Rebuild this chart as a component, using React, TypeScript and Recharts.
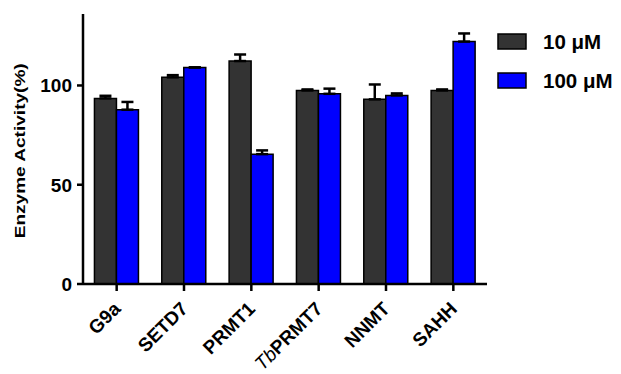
import React from 'react';
import { BarChart, Bar, XAxis, YAxis, ErrorBar, Legend } from 'recharts';

const categories = ['G9a', 'SETD7', 'PRMT1', 'TbPRMT7', 'NNMT', 'SAHH'];
const values10 = [93.5, 104.1, 112.3, 97.5, 93.0, 97.5];
const errors10 = [1.3, 1.1, 3.3, 0.5, 7.5, 0.5];
const values100 = [87.8, 109.1, 65.4, 95.8, 95.0, 122.1];
const errors100 = [3.9, 0.0, 1.9, 2.6, 1.0, 4.1];
const yTicks = [0, 50, 100];
const seriesNames = ['10 \u03bcM', '100 \u03bcM'];
const seriesColors = ['#333333', '#0000ff'];

const data = categories.map((c, i) => ({
  name: c,
  v10: values10[i],
  e10: [0, errors10[i]],
  v100: values100[i],
  e100: [0, errors100[i]],
}));

const FONT = '"Liberation Sans", Arial, sans-serif';

const XTick = (props: any) => {
  const { x, payload } = props;
  const label: string = payload.value;
  const ax = Number(x) + 5;
  const ay = 310;
  return (
    <text
      x={ax}
      y={ay}
      textAnchor="end"
      transform={`rotate(-45, ${ax}, ${ay})`}
      fontFamily={FONT}
      fontWeight={700}
      fontSize={19}
      fill="#000"
    >
      {label === 'TbPRMT7' ? (
        <>
          <tspan fontStyle="italic" fontWeight={400}>Tb</tspan>
          <tspan>PRMT7</tspan>
        </>
      ) : (
        label
      )}
    </text>
  );
};

const YLabel = () => (
  <text
    x={25}
    y={150.8}
    transform="rotate(-90, 25, 150.8)"
    textAnchor="middle"
    fontFamily={FONT}
    fontWeight={700}
    fontSize={15}
    textLength={175}
    lengthAdjust="spacingAndGlyphs"
    fill="#000"
  >
    Enzyme Activity(%)
  </text>
);

const YTick = (props: any) => {
  const { y, payload } = props;
  return (
    <text
      x={72}
      y={Number(y) + 7}
      textAnchor="end"
      fontFamily={FONT}
      fontWeight={700}
      fontSize={19}
      fill="#000"
    >
      {payload.value}
    </text>
  );
};

const LegendContent = () => (
  <svg width={140} height={70}>
    {seriesNames.map((n, i) => (
      <g key={n}>
        <rect x={3} y={6 + i * 39} width={28} height={15} fill={seriesColors[i]} stroke="#000" strokeWidth={1.5} />
        <text
          x={48}
          y={21 + i * 39}
          fontFamily={FONT}
          fontWeight={700}
          fontSize={20.5}
          fill="#000"
        >
          {n}
        </text>
      </g>
    ))}
  </svg>
);

export default function App() {
  return (
    <div style={{ position: 'absolute', left: 0, top: 0, width: 621, height: 374, background: '#fff' }}>
      <BarChart
        width={621}
        height={374}
        data={data}
        margin={{ top: 14, right: 134, bottom: 0, left: 0 }}
        barCategoryGap="17%"
        barGap={0}
      >
        <XAxis
          dataKey="name"
          height={90}
          tick={XTick}
          interval={0}
          tickSize={7}
          axisLine={{ stroke: '#000', strokeWidth: 2.5 }}
          tickLine={{ stroke: '#000', strokeWidth: 2.5 }}
        />
        <YAxis
          width={83}
          domain={[0, 136]}
          ticks={yTicks}
          tickSize={6}
          axisLine={{ stroke: '#000', strokeWidth: 2.5 }}
          tickLine={{ stroke: '#000', strokeWidth: 2.5 }}
          tick={YTick}
          label={YLabel}
        />
        <Legend
          layout="vertical"
          align="center"
          verticalAlign="middle"
          wrapperStyle={{ top: 28, left: 495, width: 140, height: 70 }}
          content={LegendContent}
        />
        <Bar dataKey="v10" name={seriesNames[0]} fill={seriesColors[0]} stroke="#000" strokeWidth={1.5} isAnimationActive={false}>
          <ErrorBar dataKey="e10" direction="y" width={6} stroke="#000" strokeWidth={2.5} />
        </Bar>
        <Bar dataKey="v100" name={seriesNames[1]} fill={seriesColors[1]} stroke="#000" strokeWidth={1.5} isAnimationActive={false}>
          <ErrorBar dataKey="e100" direction="y" width={6} stroke="#000" strokeWidth={2.5} />
        </Bar>
      </BarChart>
    </div>
  );
}
